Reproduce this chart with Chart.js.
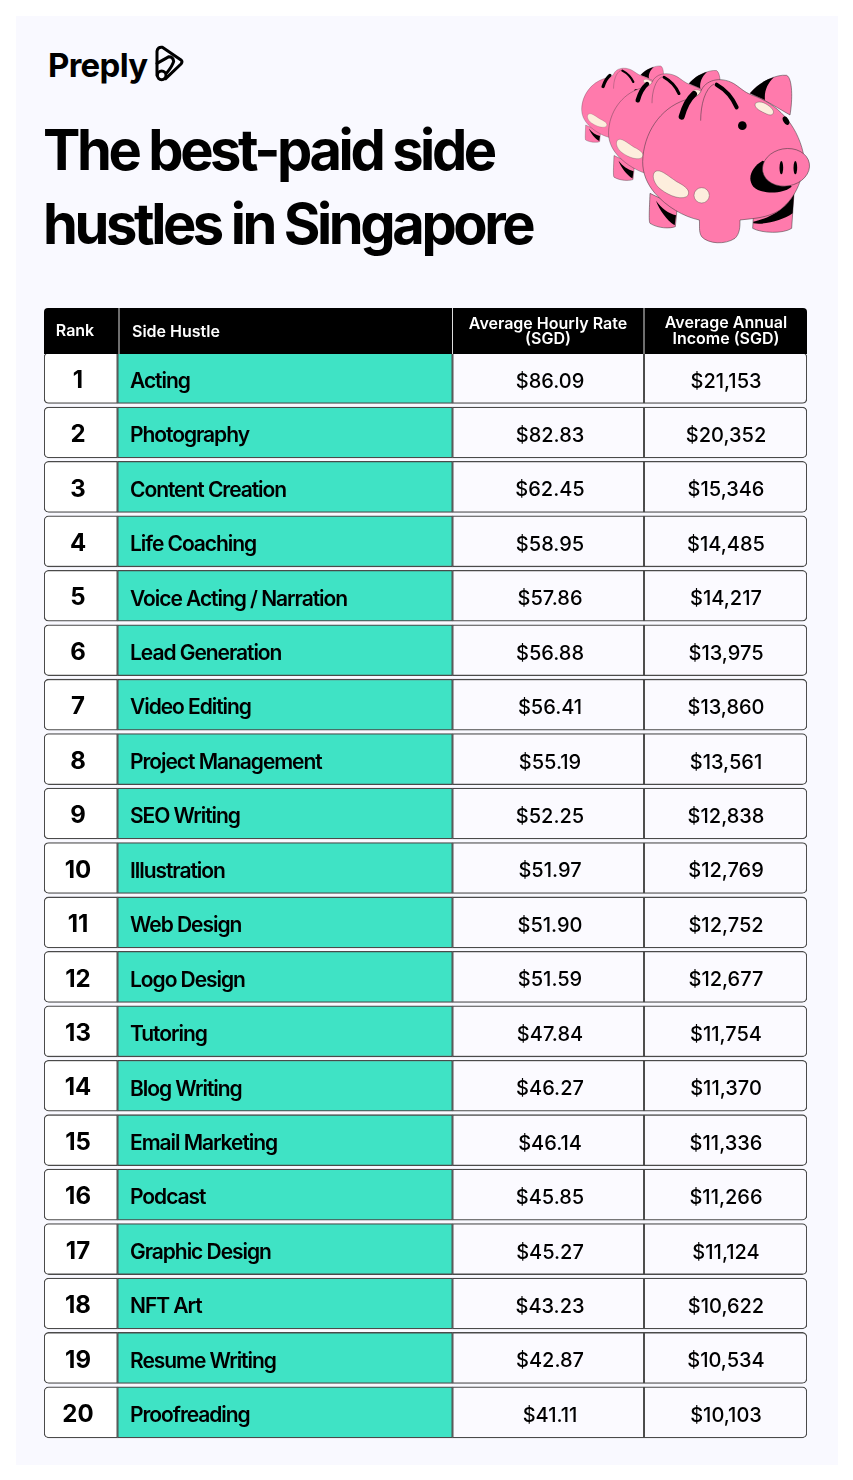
<!DOCTYPE html>
<html>
  <head>
    <title>The best-paid side hustles in Singapore</title>
    <script src="https://cdn.jsdelivr.net/npm/chart.js@4/dist/chart.umd.min.js"></script>
    <style>
      html, body { margin: 0; background: #fff; }
      body { position: relative; width: 853px; height: 1480px; overflow: hidden; font-family: Inter, sans-serif; color: #000; }
      #card { position: absolute; left: 16px; top: 16px; width: 822px; height: 1449px; background: #f9f9ff; }
      #logo { position: absolute; left: 48px; top: 43px; font-size: 33px; line-height: 44px; font-weight: 700; letter-spacing: -0.7px; }
      #logoIcon { position: absolute; left: 145px; top: 38px; }
      h1 { position: absolute; left: 43px; top: 113px; margin: 0; font-size: 56px; line-height: 74px; font-weight: 700; letter-spacing: -3.4px; white-space: nowrap; }
      #pigs { position: absolute; left: 570px; top: 50px; }
      #voteChart { position: absolute; left: 0; top: 0; }
    </style>
  </head>
  <body>
    <div id="card"></div>
    <div id="logo">Preply</div>
    <svg id="logoIcon" width="50" height="50" viewBox="0 0 150 150" fill="none" stroke="#000" stroke-width="9" stroke-linejoin="round" stroke-linecap="round">
      <path d="M36 112 L36 40 Q38 26 52 28 L108 66 Q114 71 108 78 L62 122"/>
      <path d="M36 76 L72 56 Q84 56 86 70 Q82 84 66 104"/>
      <circle cx="50" cy="112" r="13"/>
    </svg>
    <h1>The best-paid side<br>hustles in Singapore</h1>

    <svg id="pigs" width="250" height="210" viewBox="0 0 750 630">
      <defs>
        <g id="pig" stroke-linejoin="round">
          <!-- oreja de atras -->
          <path d="M540 130 C570 95 620 72 650 76 C668 85 668 150 660 195 L600 160 Z" fill="#ff7aac" stroke="#333" stroke-width="1.5"/>
          <path d="M540 130 C565 100 590 88 612 82 C592 100 582 125 585 150 Z" fill="#000"/>
          <!-- patas con sombra -->
          <path d="M240 430 C238 480 236 515 240 520 C265 536 300 536 316 530 L322 470 Z" fill="#ff7aac" stroke="#333" stroke-width="1.5"/>
          <path d="M258 452 C275 475 295 490 318 496 L314 526 C290 510 268 480 258 452 Z" fill="#000"/>
          <path d="M550 500 L548 535 C575 550 640 552 665 535 L672 430 Z" fill="#ff7aac" stroke="#333" stroke-width="1.5"/>
          <path d="M550 515 C600 505 650 475 672 432 L668 490 C640 510 590 525 550 520 Z" fill="#000"/>
          <!-- cuerpo -->
          <path d="M218 335 C220 250 270 175 345 150 C370 142 385 140 392 125 C405 90 450 78 490 100 C510 112 520 125 545 135 C620 160 680 220 700 310 C705 380 680 440 630 480 C590 505 550 505 510 510 C510 530 510 550 495 565 C465 585 415 582 395 560 C385 545 390 525 388 510 C340 500 290 470 255 430 C230 400 218 370 218 335 Z" fill="#ff7aac" stroke="#333" stroke-width="1.5"/>
          <!-- marcas de la oreja -->
          <path d="M335 200 C342 175 352 150 372 132" fill="none" stroke="#000" stroke-width="18" stroke-linecap="round"/>
          <path d="M392 212 C392 165 405 115 432 102" fill="none" stroke="#333" stroke-width="1.5"/>
          <path d="M440 104 C465 118 487 142 500 172" fill="none" stroke="#000" stroke-width="12" stroke-linecap="round"/>
          <!-- manchas -->
          <path d="M556 160 C570 150 590 160 605 175 C618 190 606 200 590 192 C575 185 550 175 556 160 Z" fill="#fdeedd" stroke="#333" stroke-width="1"/>
          <path d="M255 365 C270 355 290 375 320 395 C350 410 365 425 350 440 C325 452 285 430 265 412 C250 395 245 375 255 365 Z" fill="#fdeedd" stroke="#333" stroke-width="1"/>
          <circle cx="395" cy="436" r="23" fill="#fdeedd" stroke="#333" stroke-width="1"/>
          <circle cx="517" cy="227" r="13" fill="#000"/>
          <ellipse cx="648" cy="212" rx="8" ry="14" transform="rotate(-30 648 212)" fill="#000"/>
          <!-- hocico -->
          <path d="M578 332 C545 350 530 385 550 410 C575 435 640 432 665 410 L620 350 Z" fill="#000"/>
          <ellipse cx="648" cy="352" rx="71" ry="56" transform="rotate(-10 648 352)" fill="#ff7aac" stroke="#333" stroke-width="1.5"/>
          <ellipse cx="634" cy="353" rx="5.5" ry="20" fill="#000"/>
          <ellipse cx="676" cy="353" rx="5.5" ry="20" fill="#000"/>
        </g>
      </defs>
      <use href="#pig" transform="translate(-85 10) scale(.55 .5)"/>
      <use href="#pig" transform="translate(-48 7) scale(.75 .72)"/>
      <use href="#pig"/>
    </svg>

    <canvas id="voteChart" width="853" height="1480"></canvas>

    <script>
      // Datos de la tabla
      const ranks = ["1","2","3","4","5","6","7","8","9","10","11","12","13","14","15","16","17","18","19","20"];
      const sideHustles = ["Acting","Photography","Content Creation","Life Coaching","Voice Acting / Narration","Lead Generation","Video Editing","Project Management","SEO Writing","Illustration","Web Design","Logo Design","Tutoring","Blog Writing","Email Marketing","Podcast","Graphic Design","NFT Art","Resume Writing","Proofreading"];
      const hourlyRates = ["$86.09","$82.83","$62.45","$58.95","$57.86","$56.88","$56.41","$55.19","$52.25","$51.97","$51.90","$51.59","$47.84","$46.27","$46.14","$45.85","$45.27","$43.23","$42.87","$41.11"];
      const annualIncomes = ["$21,153","$20,352","$15,346","$14,485","$14,217","$13,975","$13,860","$13,561","$12,838","$12,769","$12,752","$12,677","$11,754","$11,370","$11,336","$11,266","$11,124","$10,622","$10,534","$10,103"];

      // Bordes de las columnas, en unidades del eje x
      const edges = [0, 73.5, 408.5, 600, 763];
      const BORDER = "#4a4a4a";

      function column(k, color, radius) {
        return {
          data: ranks.map(() => [edges[k], edges[k + 1]]),
          backgroundColor: color,
          borderColor: BORDER,
          borderWidth: 1.3,
          borderSkipped: false,
          borderRadius: radius,
          barThickness: 51,
          grouped: false
        };
      }

      // Encabezado y textos de las celdas
      const tableText = {
        id: "tableText",
        afterDatasetsDraw(chart) {
          const { ctx, scales: { x, y } } = chart;
          const top = y.getPixelForValue(0) - 70, h = 46;
          ctx.save();
          ctx.fillStyle = "#000";
          ctx.beginPath();
          ctx.roundRect(x.left, top, x.right - x.left, h, [4, 4, 0, 0]);
          ctx.fill();
          ctx.strokeStyle = "#ddd";
          ctx.lineWidth = 1;
          [75, 408.5, 600].forEach((e) => {
            ctx.beginPath();
            ctx.moveTo(x.getPixelForValue(e), top);
            ctx.lineTo(x.getPixelForValue(e), top + h);
            ctx.stroke();
          });

          ctx.textBaseline = "middle";
          ctx.fillStyle = "#fff";
          ctx.font = "600 16px Inter";
          ctx.textAlign = "center";
          ctx.fillText("Rank", 75, 331);
          ctx.fillText("Average Hourly Rate", 548, 324);
          ctx.fillText("(SGD)", 548, 339);
          ctx.fillText("Average Annual", 726, 323);
          ctx.fillText("Income (SGD)", 726, 339);
          ctx.textAlign = "left";
          ctx.fillText("Side Hustle", 132, 332);

          ranks.forEach((r, i) => {
            const py = y.getPixelForValue(i);
            ctx.fillStyle = "#000";
            ctx.font = "700 24px Inter";
            ctx.textAlign = "center";
            ctx.letterSpacing = "0px";
            ctx.fillText(r, 78, py + 2.5);
            ctx.font = "500 20px Inter";
            ctx.fillText(hourlyRates[i], 550, py + 3.5);
            ctx.fillText(annualIncomes[i], 726, py + 3.5);
            ctx.font = "600 21px Inter";
            ctx.textAlign = "left";
            ctx.letterSpacing = "-1.05px";
            ctx.fillText(sideHustles[i], 130, py + 3.5);
          });
          ctx.restore();
        }
      };

      const ctx = document.getElementById("voteChart").getContext("2d");

      const chart = new Chart(ctx, {
        type: "bar",
        data: {
          labels: ranks,
          datasets: [
            column(0, "#ffffff", { topLeft: 5, bottomLeft: 5, topRight: 0, bottomRight: 0 }),
            column(1, "#3fe3c5", 0),
            column(2, "#fbfaff", 0),
            column(3, "#fbfaff", { topLeft: 0, bottomLeft: 0, topRight: 5, bottomRight: 5 })
          ]
        },
        options: {
          indexAxis: "y",
          responsive: false,
          animation: false,
          layout: { padding: { left: 44, right: 46, top: 350.8, bottom: 40.4 } },
          scales: {
            x: { display: false, min: 0, max: 763 },
            y: { display: false }
          },
          plugins: { legend: { display: false }, tooltip: { enabled: false } }
        },
        plugins: [tableText]
      });
    </script>
  </body>
</html>
